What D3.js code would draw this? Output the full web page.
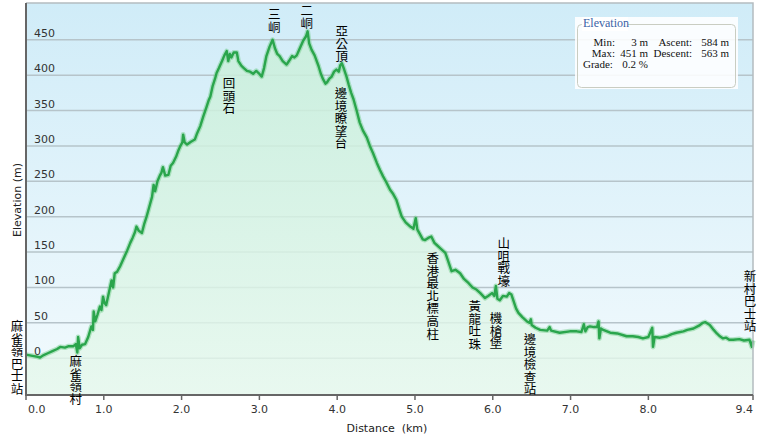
<!DOCTYPE html>
<html>
<head>
<meta charset="utf-8">
<script src="https://cdn.jsdelivr.net/npm/d3@7"></script>
<style>
  body { margin: 0; background: #fff; }
  svg { display: block; }
</style>
</head>
<body>
<div class="profileChart"></div>
<script>
// distance (km) / elevation (m)
const dist = [0.00,0.05,0.10,0.15,0.18,0.22,0.28,0.34,0.40,0.44,0.50,0.55,0.61,0.64,0.66,0.67,0.69,0.72,0.76,0.80,
  0.84,0.86,0.87,0.89,0.92,0.95,0.97,0.99,1.01,1.03,1.07,1.10,1.12,1.14,1.17,1.21,1.25,1.30,1.34,1.37,
  1.40,1.42,1.45,1.49,1.52,1.55,1.58,1.62,1.64,1.66,1.69,1.72,1.74,1.76,1.79,1.83,1.86,1.89,1.93,1.96,
  1.98,2.01,2.02,2.04,2.07,2.12,2.17,2.20,2.24,2.28,2.32,2.35,2.37,2.40,2.43,2.45,2.48,2.52,2.55,2.58,
  2.60,2.62,2.64,2.67,2.71,2.73,2.77,2.80,2.84,2.88,2.92,2.96,2.99,3.03,3.06,3.09,3.13,3.17,3.20,3.23,
  3.26,3.30,3.35,3.38,3.42,3.45,3.48,3.52,3.56,3.60,3.62,3.64,3.67,3.71,3.76,3.79,3.82,3.85,3.87,3.90,
  3.93,3.96,3.99,4.02,4.04,4.06,4.09,4.12,4.15,4.18,4.21,4.25,4.29,4.33,4.38,4.42,4.46,4.51,4.55,4.59,
  4.63,4.68,4.72,4.76,4.80,4.83,4.88,4.94,4.98,5.01,5.03,5.06,5.10,5.13,5.17,5.21,5.25,5.28,5.33,5.39,
  5.43,5.47,5.52,5.58,5.63,5.69,5.74,5.79,5.84,5.90,5.94,5.99,6.02,6.04,6.06,6.09,6.13,6.18,6.21,6.24,
  6.27,6.30,6.33,6.38,6.44,6.47,6.49,6.50,6.55,6.61,6.70,6.73,6.75,6.86,6.99,7.08,7.14,7.17,7.19,7.22,
  7.25,7.30,7.34,7.36,7.37,7.39,7.42,7.51,7.60,7.72,7.80,7.87,7.93,8.00,8.05,8.06,8.08,8.15,8.24,8.30,
  8.36,8.45,8.50,8.58,8.65,8.70,8.73,8.76,8.79,8.84,8.88,8.92,8.96,9.00,9.04,9.09,9.17,9.23,9.30,9.33,9.345];
const elev = [5,4,3,2,1,4,7,10,13,16,15,17,17,20,8,30,14,19,20,30,
  45,40,66,52,62,73,68,87,78,75,95,110,100,120,122,130,140,152,163,170,
  178,186,180,177,190,200,212,228,245,236,250,258,262,270,258,259,272,276,285,294,
  299,305,316,305,302,306,309,318,328,342,355,365,370,385,395,403,410,420,428,434,
  420,430,425,432,432,420,413,410,406,405,402,406,403,398,410,427,440,450,438,430,
  427,420,415,420,427,425,428,438,448,455,462,445,436,428,413,402,394,388,390,395,
  398,405,408,405,414,417,408,398,386,375,366,350,333,322,312,300,290,276,266,257,
  249,238,232,224,210,200,192,186,183,198,182,176,168,167,170,172,163,160,155,149,
  136,123,125,120,112,106,100,97,92,85,88,92,88,102,84,82,88,87,92,90,
  80,70,64,58,52,50,55,47,43,40,39,44,39,36,38,38,37,48,38,44,
  45,44,44,52,28,42,40,36,35,31,31,30,28,30,43,16,30,29,31,34,
  36,38,40,42,46,50,51,49,47,40,35,31,28,29,26,26,27,25,26,16,25];

const xTicks = [0, 1, 2, 3, 4, 5, 6, 7, 8, 9.345];
const xTickLabels = ["0.0","1.0","2.0","3.0","4.0","5.0","6.0","7.0","8.0","9.4"];
const yTicks = [0, 50, 100, 150, 200, 250, 300, 350, 400, 450];

const waypoints = ["麻雀嶺巴士站","麻雀嶺村","回頭石","三峒","二峒","亞公頂","邊境瞭望台",
  "香港最北標高柱","黃龍吐珠","機槍堡","山咀戰壕","邊境檢查站","新村巴士站"];
const waypointDist = [0, 0.64, 2.61, 3.19, 3.61, 4.06, 4.05, 5.23, 5.77, 6.04, 6.14, 6.48, 9.345];

const statLabels = ["Min:", "Max:", "Ascent:", "Descent:", "Grade:"];
const statValues = ["3 m", "451 m", "584 m", "563 m", "0.2 %"];

// layout
const W = 760, H = 441;
const pLeft = 26, pRight = 753, pTop = 3, pBottom = 395;
// label top (px) and x nudge for each waypoint label
const labelTop = [320, 355, 77, 8, 4, 25, 87, 252, 300, 312, 237, 333, 270];
const labelDx  = [-9, 0, 0, 0, 0, 0, 0, 0, 0, 0, 0, 0, -3];

const svg = d3.select(".profileChart").append("svg")
    .attr("width", W).attr("height", H);

const x = d3.scaleLinear().domain([0, 9.345]).range([pLeft, pRight]);
const y = d3.scaleLinear().domain([-52, 502]).range([pBottom, pTop]);

const defs = svg.append("defs");
const bg = defs.append("linearGradient").attr("id", "bg")
    .attr("x1", 0).attr("y1", 0).attr("x2", 0).attr("y2", 1);
bg.append("stop").attr("offset", "0%").attr("stop-color", "#d0ecf8");
bg.append("stop").attr("offset", "100%").attr("stop-color", "#f2fafd");
const af = defs.append("linearGradient").attr("id", "af")
    .attr("gradientUnits", "userSpaceOnUse")
    .attr("x1", 0).attr("y1", pTop).attr("x2", 0).attr("y2", pBottom);
af.append("stop").attr("offset", "0%").attr("stop-color", "#c6eed8").attr("stop-opacity", 0.85);
af.append("stop").attr("offset", "100%").attr("stop-color", "#e6f8ec").attr("stop-opacity", 0.8);

svg.append("rect")
    .attr("x", pLeft).attr("y", pTop)
    .attr("width", pRight - pLeft).attr("height", pBottom - pTop)
    .attr("fill", "url(#bg)");

// grid
svg.append("g").selectAll("line").data(yTicks).join("line")
    .attr("x1", pLeft).attr("x2", pRight)
    .attr("y1", d => y(d)).attr("y2", d => y(d))
    .attr("stroke", "#b6c4ca").attr("stroke-width", 1.5);

const pts = dist.map((d, i) => [d, elev[i]]);

svg.append("path")
    .datum(pts)
    .attr("fill", "url(#af)")
    .attr("d", d3.area().x(d => x(d[0])).y0(pBottom).y1(d => y(d[1])));

const line = d3.line().x(d => x(d[0])).y(d => y(d[1]));
svg.append("path").datum(pts)
    .attr("fill", "none").attr("stroke", "#6cc986").attr("stroke-width", 5)
    .attr("stroke-opacity", 0.45).attr("stroke-linejoin", "round")
    .attr("d", line);
svg.append("path").datum(pts)
    .attr("fill", "none").attr("stroke", "#2aa54c").attr("stroke-width", 2.4)
    .attr("stroke-linejoin", "round")
    .attr("d", line);

// y tick labels inside the plot
svg.append("g").selectAll("text").data(yTicks).join("text")
    .attr("x", 34).attr("y", d => y(d) - 3)
    .attr("font-family", "DejaVu Sans, Verdana, sans-serif")
    .attr("font-size", 11).attr("fill", "#333")
    .text(d => d);

// frame
svg.append("path")
    .attr("d", `M${pLeft},${pTop}H${pRight}V${pBottom}`)
    .attr("fill", "none").attr("stroke", "#b4bcc0").attr("stroke-width", 1.5);
svg.append("path")
    .attr("d", `M${pLeft},${pTop}V${pBottom}H${pRight}`)
    .attr("fill", "none").attr("stroke", "#666").attr("stroke-width", 2);

// x ticks
const xt = svg.append("g");
xt.selectAll("line").data(xTicks).join("line")
    .attr("x1", d => x(d)).attr("x2", d => x(d))
    .attr("y1", pBottom).attr("y2", pBottom + 5)
    .attr("stroke", "#666").attr("stroke-width", 1.5);
xt.selectAll("text").data(xTicks).join("text")
    .attr("x", (d, i) => i === 0 ? x(d) + 2 : x(d))
    .attr("y", 413)
    .attr("text-anchor", (d, i) => i === 0 ? "start" : (i === xTicks.length - 1 ? "end" : "middle"))
    .attr("font-family", "DejaVu Sans, Verdana, sans-serif")
    .attr("font-size", 11).attr("fill", "#333")
    .text((d, i) => xTickLabels[i]);

svg.append("text")
    .attr("x", 387).attr("y", 432)
    .attr("text-anchor", "middle")
    .attr("font-family", "DejaVu Sans, Verdana, sans-serif")
    .attr("font-size", 11).attr("fill", "#222")
    .style("white-space", "pre")
    .text("Distance  (km)");

svg.append("text")
    .attr("transform", "translate(21,200) rotate(-90)")
    .attr("text-anchor", "middle")
    .attr("font-family", "DejaVu Sans, Verdana, sans-serif")
    .attr("font-size", 11).attr("fill", "#222")
    .text("Elevation (m)");

// waypoint labels, one character per row
const wp = svg.append("g")
    .attr("font-family", "Noto Sans CJK TC, Noto Sans CJK SC, sans-serif")
    .attr("font-size", 12.5).attr("fill", "#000")
    .attr("text-anchor", "middle");
waypoints.forEach((name, i) => {
    const cx = x(waypointDist[i]) + labelDx[i];
    const t = wp.append("text").attr("x", cx).attr("y", labelTop[i] + 11);
    Array.from(name).forEach((ch, j) => {
        t.append("tspan")
            .attr("x", cx)
            .attr("dy", j === 0 ? 0 : 12.6)
            .text(ch);
    });
});

// stats legend
const lg = svg.append("g").attr("font-family", "Liberation Serif, Times New Roman, serif")
    .attr("font-size", 11).attr("fill", "#111");
lg.append("rect").attr("x", 575).attr("y", 17).attr("width", 163).attr("height", 72)
    .attr("fill", "#fff").attr("fill-opacity", 0.88);
lg.append("rect").attr("x", 577.5).attr("y", 24.5).attr("width", 158).attr("height", 63)
    .attr("rx", 4).attr("fill", "none").attr("stroke", "#c9cdc2").attr("stroke-width", 1);
lg.append("rect").attr("x", 582).attr("y", 17).attr("width", 46).attr("height", 14).attr("fill", "#fff");
lg.append("text").attr("x", 583).attr("y", 27).attr("font-size", 12).attr("fill", "#3a62a6").text("Elevation");

const rows = [46, 57];
[0, 1].forEach(r => {
    lg.append("text").attr("x", 615).attr("y", rows[r]).attr("text-anchor", "end").text(statLabels[r]);
    lg.append("text").attr("x", 648).attr("y", rows[r]).attr("text-anchor", "end").text(statValues[r]);
    lg.append("text").attr("x", 692).attr("y", rows[r]).attr("text-anchor", "end").text(statLabels[r + 2]);
    lg.append("text").attr("x", 729).attr("y", rows[r]).attr("text-anchor", "end").text(statValues[r + 2]);
});
lg.append("text").attr("x", 583).attr("y", 68).text(statLabels[4]);
lg.append("text").attr("x", 648).attr("y", 68).attr("text-anchor", "end").text(statValues[4]);
</script>
</body>
</html>
